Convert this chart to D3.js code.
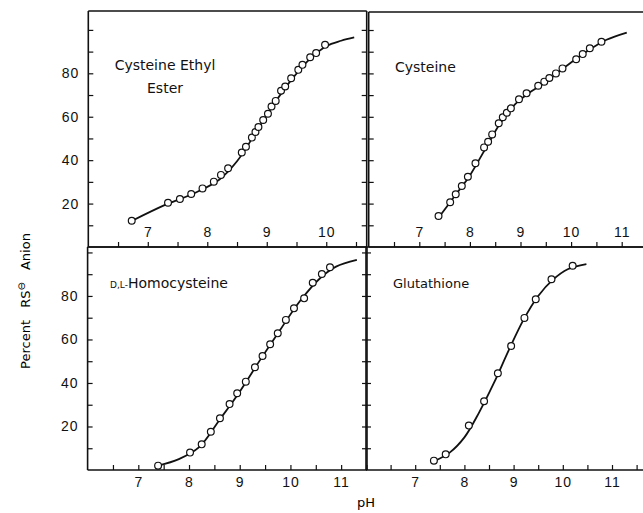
<!DOCTYPE html>
<meta charset="utf-8">
<style>
body { margin: 0; background: #fff; }
svg { font-family: "DejaVu Sans", sans-serif; }
.curve { fill: none; stroke: #111; stroke-width: 1.8px; }
.pt { fill: #fff; stroke: #111; stroke-width: 1.2px; }
.border { stroke: #111; stroke-width: 1.6px; }
.tick line { stroke: #111; stroke-width: 1.2px; }
.tick text { font-size: 14px; fill: #111; letter-spacing: 1px; }
.domain { display: none; }
.title { fill: #111; }
</style>
<body>
<script src="https://d3js.org/d3.v7.min.js"></script>
<script>

// ---- data ----
// Cysteine Ethyl Ester
var esterPH  = [6.73, 7.34, 7.54, 7.73, 7.92, 8.11, 8.23, 8.35, 8.58, 8.65, 8.75, 8.81, 8.86, 8.94, 9.02, 9.08, 9.15, 9.24, 9.31, 9.41, 9.53, 9.60, 9.73, 9.83, 9.98];
var esterPct = [12.1, 20.4, 22.1, 24.4, 27.0, 30.1, 33.2, 36.3, 43.5, 46.2, 50.4, 53.0, 55.3, 58.5, 61.4, 64.7, 67.3, 72.0, 73.9, 77.7, 81.6, 83.9, 87.4, 89.3, 93.1];
var esterCurvePH  = [6.73, 7.3, 7.8, 8.2, 8.5, 8.8, 9.1, 9.4, 9.7, 10.0, 10.25, 10.47];
var esterCurvePct = [12, 19.5, 25, 31, 39.5, 52, 65, 76.5, 86, 92.5, 95, 96.5];

// Cysteine
var cysPH  = [7.38, 7.61, 7.72, 7.84, 7.96, 8.11, 8.28, 8.36, 8.44, 8.57, 8.65, 8.73, 8.81, 8.97, 9.12, 9.35, 9.47, 9.57, 9.70, 9.83, 10.10, 10.23, 10.37, 10.60];
var cysPct = [14.3, 20.6, 24.3, 28.1, 32.4, 38.6, 45.9, 48.5, 51.9, 57.0, 59.8, 61.9, 63.9, 68.1, 70.8, 74.3, 76.2, 77.9, 80.0, 82.3, 86.5, 88.9, 91.6, 94.6];
var cysCurvePH  = [7.38, 7.7, 8.0, 8.3, 8.6, 8.9, 9.2, 9.5, 9.8, 10.1, 10.4, 10.7, 11.1];
var cysCurvePct = [13.5, 23.5, 33, 45, 57, 66, 71.5, 76, 81.5, 86.8, 91.5, 95.5, 98.8];

// D,L-Homocysteine
var homoPH  = [7.39, 8.02, 8.25, 8.43, 8.61, 8.80, 8.95, 9.12, 9.30, 9.45, 9.60, 9.75, 9.91, 10.07, 10.27, 10.44, 10.62, 10.78];
var homoPct = [2.0, 8.0, 11.8, 17.6, 23.8, 30.3, 35.3, 40.6, 47.2, 52.4, 57.8, 62.8, 69.0, 74.3, 78.9, 86.1, 90.1, 93.2];
var homoCurvePH  = [7.39, 7.8, 8.2, 8.6, 9.0, 9.4, 9.8, 10.2, 10.6, 10.9, 11.31];
var homoCurvePct = [2, 5, 10.5, 23, 36, 50.5, 64.5, 78, 88.5, 93.5, 96.6];

// Glutathione
var gluPH  = [7.38, 7.62, 8.09, 8.40, 8.68, 8.95, 9.22, 9.45, 9.77, 10.20];
var gluPct = [4.3, 7.2, 20.4, 31.6, 44.5, 57.0, 69.9, 78.5, 87.7, 93.9];
var gluCurvePH  = [7.38, 7.7, 8.0, 8.3, 8.6, 8.9, 9.2, 9.5, 9.8, 10.1, 10.48];
var gluCurvePct = [4, 8, 15, 26.5, 40, 55, 69, 80, 87.5, 92.3, 94.6];

var yTickVals  = [10, 20, 30, 40, 50, 60, 70, 80, 90, 100];
var yTickLabels = [20, 40, 60, 80];

// ---- layout ----
var W = 643, H = 513;
var svg = d3.select("body").append("svg")
    .attr("width", W).attr("height", H);

function zip(a, b) { return a.map(function(v, i) { return [v, b[i]]; }); }

var panels = [
  {title: ["Cysteine Ethyl", "Ester"], pts: zip(esterPH, esterPct), curve: zip(esterCurvePH, esterCurvePct),
   x0: 88.3, x1: 366.7, xmax: 10.68, y0: 247, y1: 11, ymax: 108.7, left: true, top: true, tx: 165, ty: 70, fs: 14},
  {title: ["Cysteine"], pts: zip(cysPH, cysPct), curve: zip(cysCurvePH, cysCurvePct),
   x0: 368.7, x1: 647, xmax: 11.5, y0: 247, y1: 12, ymax: 108.3, left: false, top: true, tx: 395, ty: 72, fs: 14},
  {title: ["Homocysteine"], pts: zip(homoPH, homoPct), curve: zip(homoCurvePH, homoCurvePct),
   x0: 87.6, x1: 367, xmax: 11.51, y0: 470, y1: 247, ymax: 102.5, left: true, top: false, tx: 110, ty: 288, fs: 14},
  {title: ["Glutathione"], pts: zip(gluPH, gluPct), curve: zip(gluCurvePH, gluCurvePct),
   x0: 366, x1: 643, xmax: 11.63, y0: 470, y1: 247, ymax: 102.5, left: false, top: false, tx: 393, ty: 288, fs: 13}
];

panels.forEach(function(p) {
  var x = d3.scaleLinear().domain([6, p.xmax]).range([p.x0, p.x1]);
  var y = d3.scaleLinear().domain([0, p.ymax]).range([p.y0, p.y1]);
  var g = svg.append("g");

  var xTicks = d3.range(6.5, p.xmax, 0.5);
  var xAxis = (p.top ? d3.axisTop(x).tickSize(5).tickPadding(5)
                     : d3.axisBottom(x).tickSizeInner(-5).tickSizeOuter(0).tickPadding(7))
      .tickValues(xTicks)
      .tickFormat(function(d) { return d % 1 === 0 ? d : ""; });
  g.append("g").attr("transform", "translate(0," + p.y0 + ")").call(xAxis);

  // left border ticks (inward)
  var yl = d3.axisLeft(y).tickValues(yTickVals).tickSizeInner(-5).tickSizeOuter(0).tickPadding(9)
      .tickFormat(function(d) { return p.left && yTickLabels.indexOf(d) >= 0 ? d : ""; });
  g.append("g").attr("transform", "translate(" + p.x0 + ",0)").call(yl);

  // right border ticks (inward)
  if (p.left) {
    g.append("g").attr("transform", "translate(" + p.x1 + ",0)")
      .call(d3.axisRight(y).tickValues(yTickVals).tickSizeInner(-5).tickSizeOuter(0).tickFormat(""));
  }

  // borders
  g.append("line").attr("class", "border")
    .attr("x1", p.x0).attr("x2", Math.min(p.x1, W)).attr("y1", p.y0).attr("y2", p.y0);
  g.append("line").attr("class", "border")
    .attr("x1", p.x0).attr("x2", Math.min(p.x1, W)).attr("y1", p.y1).attr("y2", p.y1);
  g.append("line").attr("class", "border")
    .attr("x1", p.x0).attr("x2", p.x0).attr("y1", p.y0).attr("y2", p.y1);
  if (p.left) {
    g.append("line").attr("class", "border")
      .attr("x1", p.x1).attr("x2", p.x1).attr("y1", p.y0).attr("y2", p.y1);
  }

  var line = d3.line()
      .x(function(d) { return x(d[0]); })
      .y(function(d) { return y(d[1]); })
      .curve(d3.curveCatmullRom.alpha(0.5));
  g.append("path").datum(p.curve).attr("class", "curve").attr("d", line);

  g.selectAll("circle.pt").data(p.pts).enter().append("circle")
      .attr("class", "pt")
      .attr("cx", function(d) { return x(d[0]); })
      .attr("cy", function(d) { return y(d[1]); })
      .attr("r", 3.4);

  // panel title
  if (p.title[0] === "Homocysteine") {
    var t = g.append("text").attr("class", "title").attr("x", p.tx).attr("y", p.ty)
        .style("font-size", p.fs + "px");
    t.append("tspan").style("font-size", "9px").text("D,L-");
    t.append("tspan").text("Homocysteine");
  } else {
    p.title.forEach(function(s, i) {
      g.append("text").attr("class", "title")
        .attr("x", p.tx).attr("y", p.ty + i * 23)
        .attr("text-anchor", p.title.length > 1 ? "middle" : "start")
        .style("font-size", p.fs + "px")
        .text(s);
    });
  }
});

// axis titles
var yl = svg.append("text")
    .attr("transform", "translate(30,301) rotate(-90)")
    .attr("text-anchor", "middle")
    .style("font-size", "13px").style("word-spacing", "8px");
yl.append("tspan").text("Percent RS");
yl.append("tspan").attr("dy", -5).style("font-size", "10px").text("\u2296");
yl.append("tspan").attr("dy", 5).text(" Anion");

svg.append("text")
    .attr("x", 366).attr("y", 507)
    .attr("text-anchor", "middle")
    .style("font-size", "13px")
    .text("pH");

</script>
</body>
